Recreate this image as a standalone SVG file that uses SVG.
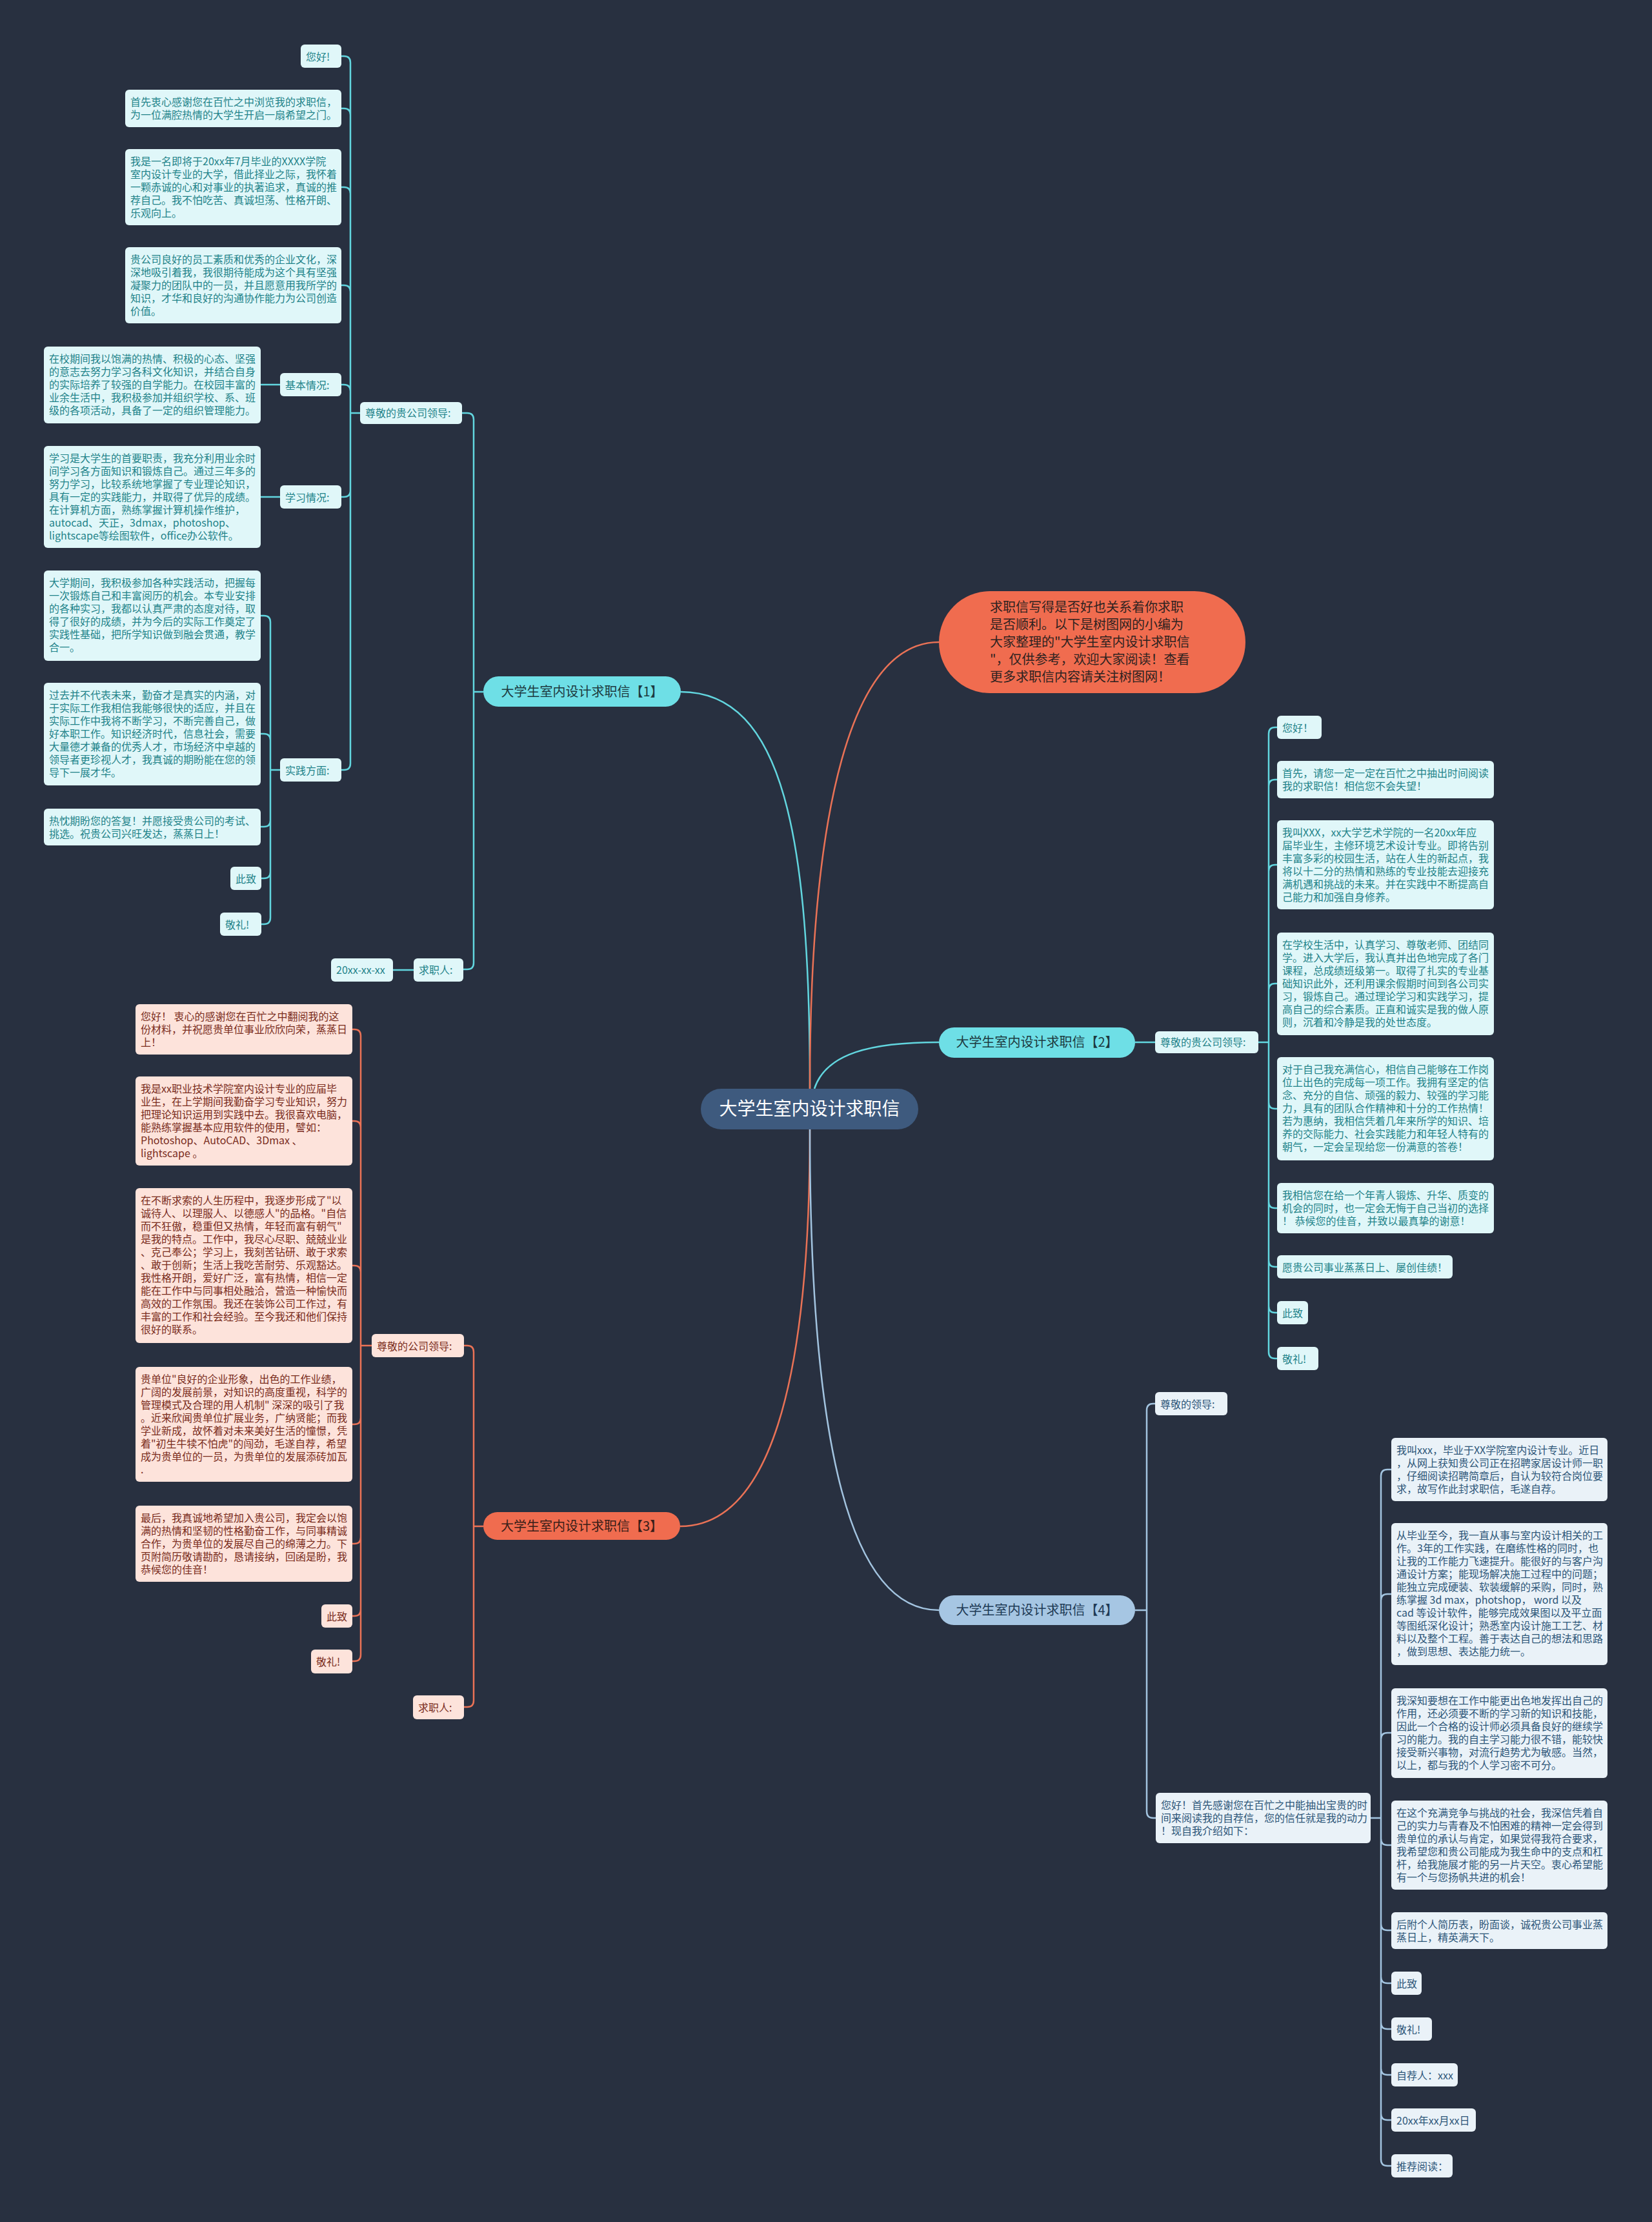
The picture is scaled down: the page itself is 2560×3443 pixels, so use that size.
<svg xmlns="http://www.w3.org/2000/svg" width="2560" height="3443" viewBox="0 0 2560 3443">
<style>
text{font-family:"Noto Sans CJK SC","Noto Sans",sans-serif}
.k1{fill:none;stroke:#62d6df;stroke-width:2.5}
.k3{fill:none;stroke:#ea7256;stroke-width:2.5}
.k4{fill:none;stroke:#a3c4e0;stroke-width:2.5}
.l1 rect{fill:#e0f7f9}
.l1 text{fill:#1f8389;font-size:16px}
.l3 rect{fill:#fde3db}
.l3 text{fill:#7a2c1c;font-size:16px}
.l4 rect{fill:#eaf2f8}
.l4 text{fill:#2d5678;font-size:16px}
.br text{font-size:20px;text-anchor:middle}
</style>
<rect width="2560" height="3443" fill="#283040"/>
<g id="connectors">
<path class="k1" d="M1255,1687 C1255,1300 1215,1072 1055,1072"/>
<path class="k3" d="M1255,1687 C1255,1250 1320,995 1455,995"/>
<path class="k1" d="M1262,1687 C1280,1632 1350,1615 1455,1615"/>
<path class="k3" d="M1255,1750 C1255,2150 1190,2365 1054,2365"/>
<path class="k4" d="M1255,1750 C1255,2250 1320,2495 1455,2495"/>
<path class="k1" d="M749,1072 H734 M734,1072 V650 Q734,640 724,640 H716 M734,1072 V1492 Q734,1502 724,1502 H718 M641,1503 H609"/>
<path class="k1" d="M558,640 H543 M543,640 V97 Q543,87 533,87 H529 M543,640 V178 Q543,168 533,168 H529 M543,640 V300 Q543,290 533,290 H529 M543,640 V452 Q543,442 533,442 H529 M543,640 V606 Q543,596 533,596 H529 M543,640 V760 Q543,770 533,770 H529 M543,640 V1183 Q543,1193 533,1193 H529 M434,596 H404 M434,770 H404"/>
<path class="k1" d="M434,1193 H419 M419,1193 V964 Q419,954 409,954 H404 M419,1193 V1147 Q419,1137 409,1137 H404 M419,1193 V1271 Q419,1281 409,1281 H404 M419,1193 V1351 Q419,1361 409,1361 H405 M419,1193 V1422 Q419,1432 409,1432 H405"/>
<path class="k3" d="M749,2365 H734 M734,2365 V2095 Q734,2085 724,2085 H719 M734,2365 V2635 Q734,2645 724,2645 H719"/>
<path class="k3" d="M576,2085 H559 M559,2085 V1605 Q559,1595 549,1595 H546 M559,2085 V1747 Q559,1737 549,1737 H546 M559,2085 V1971 Q559,1961 549,1961 H546 M559,2085 V2197 Q559,2207 549,2207 H546 M559,2085 V2382 Q559,2392 549,2392 H546 M559,2085 V2494 Q559,2504 549,2504 H546 M559,2085 V2564 Q559,2574 549,2574 H546"/>
<path class="k1" d="M1759,1615 H1790 M1950,1615 H1966 M1966,1615 V1137 Q1966,1127 1976,1127 H1979 M1966,1615 V1218 Q1966,1208 1976,1208 H1979 M1966,1615 V1350 Q1966,1340 1976,1340 H1979 M1966,1615 V1534 Q1966,1524 1976,1524 H1979 M1966,1615 V1708 Q1966,1718 1976,1718 H1979 M1966,1615 V1862 Q1966,1872 1976,1872 H1979 M1966,1615 V1953 Q1966,1963 1976,1963 H1979 M1966,1615 V2024 Q1966,2034 1976,2034 H1979 M1966,1615 V2095 Q1966,2105 1976,2105 H1979"/>
<path class="k4" d="M1759,2495 H1777 M1777,2495 V2185 Q1777,2175 1787,2175 H1790 M1777,2495 V2807 Q1777,2817 1787,2817 H1791"/>
<path class="k4" d="M2124,2817 H2140 M2140,2817 V2287 Q2140,2277 2150,2277 H2156 M2140,2817 V2480 Q2140,2470 2150,2470 H2156 M2140,2817 V2695 Q2140,2685 2150,2685 H2156 M2140,2817 V2849 Q2140,2859 2150,2859 H2156 M2140,2817 V2981 Q2140,2991 2150,2991 H2156 M2140,2817 V3063 Q2140,3073 2150,3073 H2156 M2140,2817 V3134 Q2140,3144 2150,3144 H2156 M2140,2817 V3205 Q2140,3215 2150,3215 H2156 M2140,2817 V3275 Q2140,3285 2150,3285 H2156 M2140,2817 V3346 Q2140,3356 2150,3356 H2156"/>
</g>
<g id="root"><rect x="1086" y="1687" width="337" height="63" rx="31.5" fill="#3e5a7e"/><text x="1254.5" y="1728" font-size="28" fill="#ffffff" text-anchor="middle">大学生室内设计求职信</text></g>
<g id="intro"><rect x="1455" y="916" width="475" height="158" rx="79" fill="#f06c4f"/><text font-size="20" fill="#2e2220"><tspan x="1534" y="948">求职信写得是否好也关系着你求职</tspan><tspan x="1534" y="975">是否顺利。以下是树图网的小编为</tspan><tspan x="1534" y="1002">大家整理的"大学生室内设计求职信</tspan><tspan x="1534" y="1029">"，仅供参考，欢迎大家阅读！查看</tspan><tspan x="1534" y="1056">更多求职信内容请关注树图网！</tspan></text></g>
<g id="branch1" class="br"><rect x="749" y="1048" width="306" height="47" rx="23.5" fill="#6edfe6"/><text x="902" y="1079" fill="#1d3a40">大学生室内设计求职信【1】</text></g>
<g id="branch2" class="br"><rect x="1455" y="1592" width="304" height="47" rx="23.5" fill="#6edfe6"/><text x="1607" y="1622" fill="#1d3a40">大学生室内设计求职信【2】</text></g>
<g id="branch3" class="br"><rect x="749" y="2343" width="305" height="43" rx="21.5" fill="#f06c4f"/><text x="901.5" y="2372" fill="#3a1e18">大学生室内设计求职信【3】</text></g>
<g id="branch4" class="br"><rect x="1455" y="2472" width="304" height="46" rx="23" fill="#a6c6e3"/><text x="1607" y="2502" fill="#203a55">大学生室内设计求职信【4】</text></g>

<g id="b1-dear" class="l1"><rect x="558" y="623" width="158" height="34" rx="6"/><text x="566" y="646">尊敬的贵公司领导:</text></g>
<g id="b1-applicant" class="l1"><rect x="641" y="1485" width="77" height="36" rx="6"/><text x="649" y="1509">求职人:</text></g>
<g id="b1-date" class="l1"><rect x="513" y="1485" width="96" height="36" rx="6"/><text x="521" y="1509">20xx-xx-xx</text></g>
<g id="b1-hello" class="l1"><rect x="466" y="69" width="63" height="36" rx="6"/><text x="474" y="93.5">您好!</text></g>
<g id="b1-first" class="l1"><rect x="194" y="139" width="335" height="58" rx="6"/><text><tspan x="202" y="163.5">首先衷心感谢您在百忙之中浏览我的求职信，</tspan><tspan x="202" y="183.5">为一位满腔热情的大学生开启一扇希望之门。</tspan></text></g>
<g id="b1-me" class="l1"><rect x="194" y="231" width="335" height="118" rx="6"/><text><tspan x="202" y="255.5">我是一名即将于20xx年7月毕业的XXXX学院</tspan><tspan x="202" y="275.5">室内设计专业的大学，借此择业之际，我怀着</tspan><tspan x="202" y="295.5">一颗赤诚的心和对事业的执著追求，真诚的推</tspan><tspan x="202" y="315.5">荐自己。我不怕吃苦、真诚坦荡、性格开朗、</tspan><tspan x="202" y="335.5">乐观向上。</tspan></text></g>
<g id="b1-company" class="l1"><rect x="194" y="383" width="335" height="118" rx="6"/><text><tspan x="202" y="407.5">贵公司良好的员工素质和优秀的企业文化，深</tspan><tspan x="202" y="427.5">深地吸引着我，我很期待能成为这个具有坚强</tspan><tspan x="202" y="447.5">凝聚力的团队中的一员，并且愿意用我所学的</tspan><tspan x="202" y="467.5">知识，才华和良好的沟通协作能力为公司创造</tspan><tspan x="202" y="487.5">价值。</tspan></text></g>
<g id="b1-basic" class="l1"><rect x="434" y="578" width="95" height="36" rx="6"/><text x="442" y="602.5">基本情况:</text></g>
<g id="b1-school" class="l1"><rect x="68" y="537" width="336" height="119" rx="6"/><text><tspan x="76" y="561.5">在校期间我以饱满的热情、积极的心态、坚强</tspan><tspan x="76" y="581.5">的意志去努力学习各科文化知识，并结合自身</tspan><tspan x="76" y="601.5">的实际培养了较强的自学能力。在校园丰富的</tspan><tspan x="76" y="621.5">业余生活中，我积极参加并组织学校、系、班</tspan><tspan x="76" y="641.5">级的各项活动，具备了一定的组织管理能力。</tspan></text></g>
<g id="b1-study" class="l1"><rect x="434" y="752" width="95" height="36" rx="6"/><text x="442" y="776.5">学习情况:</text></g>
<g id="b1-studytext" class="l1"><rect x="68" y="691" width="336" height="158" rx="6"/><text><tspan x="76" y="715.5">学习是大学生的首要职责，我充分利用业余时</tspan><tspan x="76" y="735.5">间学习各方面知识和锻炼自己。通过三年多的</tspan><tspan x="76" y="755.5">努力学习，比较系统地掌握了专业理论知识，</tspan><tspan x="76" y="775.5">具有一定的实践能力，并取得了优异的成绩。</tspan><tspan x="76" y="795.5">在计算机方面，熟练掌握计算机操作维护，</tspan><tspan x="76" y="815.5">autocad、天正，3dmax，photoshop、</tspan><tspan x="76" y="835.5">lightscape等绘图软件，office办公软件。</tspan></text></g>
<g id="b1-practice" class="l1"><rect x="434" y="1175" width="95" height="36" rx="6"/><text x="442" y="1199.5">实践方面:</text></g>
<g id="b1-univ" class="l1"><rect x="68" y="884" width="336" height="140" rx="6"/><text><tspan x="76" y="908.5">大学期间，我积极参加各种实践活动，把握每</tspan><tspan x="76" y="928.5">一次锻炼自己和丰富阅历的机会。本专业安排</tspan><tspan x="76" y="948.5">的各种实习，我都以认真严肃的态度对待，取</tspan><tspan x="76" y="968.5">得了很好的成绩，并为今后的实际工作奠定了</tspan><tspan x="76" y="988.5">实践性基础，把所学知识做到融会贯通，教学</tspan><tspan x="76" y="1008.5">合一。</tspan></text></g>
<g id="b1-past" class="l1"><rect x="68" y="1058" width="336" height="159" rx="6"/><text><tspan x="76" y="1082.5">过去并不代表未来，勤奋才是真实的内涵，对</tspan><tspan x="76" y="1102.5">于实际工作我相信我能够很快的适应，并且在</tspan><tspan x="76" y="1122.5">实际工作中我将不断学习，不断完善自己，做</tspan><tspan x="76" y="1142.5">好本职工作。知识经济时代，信息社会，需要</tspan><tspan x="76" y="1162.5">大量德才兼备的优秀人才，市场经济中卓越的</tspan><tspan x="76" y="1182.5">领导者更珍视人才，我真诚的期盼能在您的领</tspan><tspan x="76" y="1202.5">导下一展才华。</tspan></text></g>
<g id="b1-hope" class="l1"><rect x="68" y="1253" width="336" height="57" rx="6"/><text><tspan x="76" y="1277.5">热忱期盼您的答复！并愿接受贵公司的考试、</tspan><tspan x="76" y="1297.5">挑选。祝贵公司兴旺发达，蒸蒸日上！</tspan></text></g>
<g id="b1-cizhi" class="l1"><rect x="357" y="1343" width="48" height="36" rx="6"/><text x="365" y="1367.5">此致</text></g>
<g id="b1-jingli" class="l1"><rect x="341" y="1414" width="64" height="36" rx="6"/><text x="349" y="1438.5">敬礼!</text></g>

<g id="b2-dear" class="l1"><rect x="1790" y="1598" width="160" height="34" rx="6"/><text x="1798" y="1621">尊敬的贵公司领导:</text></g>
<g id="b2-hello" class="l1"><rect x="1979" y="1109" width="69" height="36" rx="6"/><text x="1987" y="1133.5">您好！</text></g>
<g id="b2-first" class="l1"><rect x="1979" y="1179" width="336" height="58" rx="6"/><text><tspan x="1987" y="1203.5">首先，请您一定一定在百忙之中抽出时间阅读</tspan><tspan x="1987" y="1223.5">我的求职信！相信您不会失望！</tspan></text></g>
<g id="b2-me" class="l1"><rect x="1979" y="1271" width="336" height="138" rx="6"/><text><tspan x="1987" y="1295.5">我叫XXX，xx大学艺术学院的一名20xx年应</tspan><tspan x="1987" y="1315.5">届毕业生，主修环境艺术设计专业。即将告别</tspan><tspan x="1987" y="1335.5">丰富多彩的校园生活，站在人生的新起点，我</tspan><tspan x="1987" y="1355.5">将以十二分的热情和熟练的专业技能去迎接充</tspan><tspan x="1987" y="1375.5">满机遇和挑战的未来。并在实践中不断提高自</tspan><tspan x="1987" y="1395.5">己能力和加强自身修养。</tspan></text></g>
<g id="b2-school" class="l1"><rect x="1979" y="1445" width="336" height="159" rx="6"/><text><tspan x="1987" y="1469.5">在学校生活中，认真学习、尊敬老师、团结同</tspan><tspan x="1987" y="1489.5">学。进入大学后，我认真并出色地完成了各门</tspan><tspan x="1987" y="1509.5">课程，总成绩班级第一。取得了扎实的专业基</tspan><tspan x="1987" y="1529.5">础知识此外，还利用课余假期时间到各公司实</tspan><tspan x="1987" y="1549.5">习，锻炼自己。通过理论学习和实践学习，提</tspan><tspan x="1987" y="1569.5">高自己的综合素质。正直和诚实是我的做人原</tspan><tspan x="1987" y="1589.5">则，沉着和冷静是我的处世态度。</tspan></text></g>
<g id="b2-self" class="l1"><rect x="1979" y="1638" width="336" height="160" rx="6"/><text><tspan x="1987" y="1662.5">对于自己我充满信心，相信自己能够在工作岗</tspan><tspan x="1987" y="1682.5">位上出色的完成每一项工作。我拥有坚定的信</tspan><tspan x="1987" y="1702.5">念、充分的自信、顽强的毅力、较强的学习能</tspan><tspan x="1987" y="1722.5">力，具有的团队合作精神和十分的工作热情！</tspan><tspan x="1987" y="1742.5">若为惠纳，我相信凭着几年来所学的知识、培</tspan><tspan x="1987" y="1762.5">养的交际能力、社会实践能力和年轻人特有的</tspan><tspan x="1987" y="1782.5">朝气，一定会呈现给您一份满意的答卷！</tspan></text></g>
<g id="b2-believe" class="l1"><rect x="1979" y="1833" width="336" height="78" rx="6"/><text><tspan x="1987" y="1857.5">我相信您在给一个年青人锻炼、升华、质变的</tspan><tspan x="1987" y="1877.5">机会的同时，也一定会无悔于自己当初的选择</tspan><tspan x="1987" y="1897.5">！ 恭候您的佳音，并致以最真挚的谢意！</tspan></text></g>
<g id="b2-wish" class="l1"><rect x="1979" y="1945" width="272" height="36" rx="6"/><text x="1987" y="1969.5">愿贵公司事业蒸蒸日上、屡创佳绩！</text></g>
<g id="b2-cizhi" class="l1"><rect x="1979" y="2016" width="48" height="36" rx="6"/><text x="1987" y="2040.5">此致</text></g>
<g id="b2-jingli" class="l1"><rect x="1979" y="2087" width="64" height="36" rx="6"/><text x="1987" y="2111.5">敬礼!</text></g>

<g id="b3-dear" class="l3"><rect x="576" y="2067" width="143" height="36" rx="6"/><text x="584" y="2091.5">尊敬的公司领导:</text></g>
<g id="b3-applicant" class="l3"><rect x="640" y="2627" width="79" height="37" rx="6"/><text x="648" y="2651.5">求职人:</text></g>
<g id="b3-hello" class="l3"><rect x="210" y="1556" width="336" height="78" rx="6"/><text><tspan x="218" y="1580.5">您好！ 衷心的感谢您在百忙之中翻阅我的这</tspan><tspan x="218" y="1600.5">份材料，并祝愿贵单位事业欣欣向荣，蒸蒸日</tspan><tspan x="218" y="1620.5">上！</tspan></text></g>
<g id="b3-me" class="l3"><rect x="210" y="1668" width="336" height="138" rx="6"/><text><tspan x="218" y="1692.5">我是xx职业技术学院室内设计专业的应届毕</tspan><tspan x="218" y="1712.5">业生，在上学期间我勤奋学习专业知识，努力</tspan><tspan x="218" y="1732.5">把理论知识运用到实践中去。我很喜欢电脑，</tspan><tspan x="218" y="1752.5">能熟练掌握基本应用软件的使用，譬如：</tspan><tspan x="218" y="1772.5">Photoshop、AutoCAD、3Dmax 、</tspan><tspan x="218" y="1792.5">lightscape 。</tspan></text></g>
<g id="b3-seek" class="l3"><rect x="210" y="1841" width="336" height="240" rx="6"/><text><tspan x="218" y="1865.5">在不断求索的人生历程中，我逐步形成了"以</tspan><tspan x="218" y="1885.5">诚待人、以理服人、以德感人"的品格。"自信</tspan><tspan x="218" y="1905.5">而不狂傲，稳重但又热情，年轻而富有朝气"</tspan><tspan x="218" y="1925.5">是我的特点。工作中，我尽心尽职、兢兢业业</tspan><tspan x="218" y="1945.5">、克己奉公；学习上，我刻苦钻研、敢于求索</tspan><tspan x="218" y="1965.5">、敢于创新；生活上我吃苦耐劳、乐观豁达。</tspan><tspan x="218" y="1985.5">我性格开朗，爱好广泛，富有热情，相信一定</tspan><tspan x="218" y="2005.5">能在工作中与同事相处融洽，营造一种愉快而</tspan><tspan x="218" y="2025.5">高效的工作氛围。我还在装饰公司工作过，有</tspan><tspan x="218" y="2045.5">丰富的工作和社会经验。至今我还和他们保持</tspan><tspan x="218" y="2065.5">很好的联系。</tspan></text></g>
<g id="b3-unit" class="l3"><rect x="210" y="2118" width="336" height="178" rx="6"/><text><tspan x="218" y="2142.5">贵单位"良好的企业形象，出色的工作业绩，</tspan><tspan x="218" y="2162.5">广阔的发展前景，对知识的高度重视，科学的</tspan><tspan x="218" y="2182.5">管理模式及合理的用人机制" 深深的吸引了我</tspan><tspan x="218" y="2202.5">。近来欣闻贵单位扩展业务，广纳贤能；而我</tspan><tspan x="218" y="2222.5">学业新成，故怀着对未来美好生活的憧憬，凭</tspan><tspan x="218" y="2242.5">着"初生牛犊不怕虎"的闯劲，毛遂自荐，希望</tspan><tspan x="218" y="2262.5">成为贵单位的一员，为贵单位的发展添砖加瓦</tspan><tspan x="218" y="2282.5">.</tspan></text></g>
<g id="b3-last" class="l3"><rect x="210" y="2333" width="336" height="118" rx="6"/><text><tspan x="218" y="2357.5">最后，我真诚地希望加入贵公司，我定会以饱</tspan><tspan x="218" y="2377.5">满的热情和坚韧的性格勤奋工作，与同事精诚</tspan><tspan x="218" y="2397.5">合作，为贵单位的发展尽自己的绵薄之力。下</tspan><tspan x="218" y="2417.5">页附简历敬请勘酌，恳请接纳，回函是盼，我</tspan><tspan x="218" y="2437.5">恭候您的佳音！</tspan></text></g>
<g id="b3-cizhi" class="l3"><rect x="498" y="2486" width="48" height="36" rx="6"/><text x="506" y="2510.5">此致</text></g>
<g id="b3-jingli" class="l3"><rect x="482" y="2556" width="64" height="37" rx="6"/><text x="490" y="2580.5">敬礼!</text></g>

<g id="b4-dear" class="l4"><rect x="1790" y="2157" width="112" height="36" rx="6"/><text x="1798" y="2181.5">尊敬的领导:</text></g>
<g id="b4-hello" class="l4"><rect x="1791" y="2778" width="333" height="78" rx="6"/><text><tspan x="1799" y="2802.5">您好！首先感谢您在百忙之中能抽出宝贵的时</tspan><tspan x="1799" y="2822.5">间来阅读我的自荐信，您的信任就是我的动力</tspan><tspan x="1799" y="2842.5">！现自我介绍如下：</tspan></text></g>
<g id="b4-name" class="l4"><rect x="2156" y="2228" width="335" height="98" rx="6"/><text><tspan x="2164" y="2252.5">我叫xxx，毕业于XX学院室内设计专业。近日</tspan><tspan x="2164" y="2272.5">，从网上获知贵公司正在招聘家居设计师一职</tspan><tspan x="2164" y="2292.5">，仔细阅读招聘简章后，自认为较符合岗位要</tspan><tspan x="2164" y="2312.5">求，故写作此封求职信，毛遂自荐。</tspan></text></g>
<g id="b4-grad" class="l4"><rect x="2156" y="2360" width="335" height="220" rx="6"/><text><tspan x="2164" y="2384.5">从毕业至今，我一直从事与室内设计相关的工</tspan><tspan x="2164" y="2404.5">作。3年的工作实践，在磨练性格的同时，也</tspan><tspan x="2164" y="2424.5">让我的工作能力飞速提升。能很好的与客户沟</tspan><tspan x="2164" y="2444.5">通设计方案；能现场解决施工过程中的问题；</tspan><tspan x="2164" y="2464.5">能独立完成硬装、软装缓解的采购，同时，熟</tspan><tspan x="2164" y="2484.5">练掌握 3d max，photshop， word 以及</tspan><tspan x="2164" y="2504.5">cad 等设计软件，能够完成效果图以及平立面</tspan><tspan x="2164" y="2524.5">等图纸深化设计；熟悉室内设计施工工艺、材</tspan><tspan x="2164" y="2544.5">料以及整个工程。善于表达自己的想法和思路</tspan><tspan x="2164" y="2564.5">，做到思想、表达能力统一。</tspan></text></g>
<g id="b4-know" class="l4"><rect x="2156" y="2616" width="335" height="139" rx="6"/><text><tspan x="2164" y="2640.5">我深知要想在工作中能更出色地发挥出自己的</tspan><tspan x="2164" y="2660.5">作用，还必须要不断的学习新的知识和技能，</tspan><tspan x="2164" y="2680.5">因此一个合格的设计师必须具备良好的继续学</tspan><tspan x="2164" y="2700.5">习的能力。我的自主学习能力很不错，能较快</tspan><tspan x="2164" y="2720.5">接受新兴事物，对流行趋势尤为敏感。当然，</tspan><tspan x="2164" y="2740.5">以上，都与我的个人学习密不可分。</tspan></text></g>
<g id="b4-society" class="l4"><rect x="2156" y="2790" width="335" height="138" rx="6"/><text><tspan x="2164" y="2814.5">在这个充满竞争与挑战的社会，我深信凭着自</tspan><tspan x="2164" y="2834.5">己的实力与青春及不怕困难的精神一定会得到</tspan><tspan x="2164" y="2854.5">贵单位的承认与肯定，如果觉得我符合要求，</tspan><tspan x="2164" y="2874.5">我希望您和贵公司能成为我生命中的支点和杠</tspan><tspan x="2164" y="2894.5">杆，给我施展才能的另一片天空。衷心希望能</tspan><tspan x="2164" y="2914.5">有一个与您扬帆共进的机会！</tspan></text></g>
<g id="b4-attach" class="l4"><rect x="2156" y="2963" width="335" height="57" rx="6"/><text><tspan x="2164" y="2987.5">后附个人简历表，盼面谈，诚祝贵公司事业蒸</tspan><tspan x="2164" y="3007.5">蒸日上，精英满天下。</tspan></text></g>
<g id="b4-cizhi" class="l4"><rect x="2156" y="3055" width="47" height="36" rx="6"/><text x="2164" y="3079.5">此致</text></g>
<g id="b4-jingli" class="l4"><rect x="2156" y="3126" width="63" height="36" rx="6"/><text x="2164" y="3150.5">敬礼!</text></g>
<g id="b4-signer" class="l4"><rect x="2156" y="3197" width="103" height="36" rx="6"/><text x="2164" y="3221.5">自荐人：xxx</text></g>
<g id="b4-date" class="l4"><rect x="2156" y="3267" width="131" height="36" rx="6"/><text x="2164" y="3291.5">20xx年xx月xx日</text></g>
<g id="b4-rec" class="l4"><rect x="2156" y="3338" width="95" height="36" rx="6"/><text x="2164" y="3362.5">推荐阅读：</text></g>
</svg>
